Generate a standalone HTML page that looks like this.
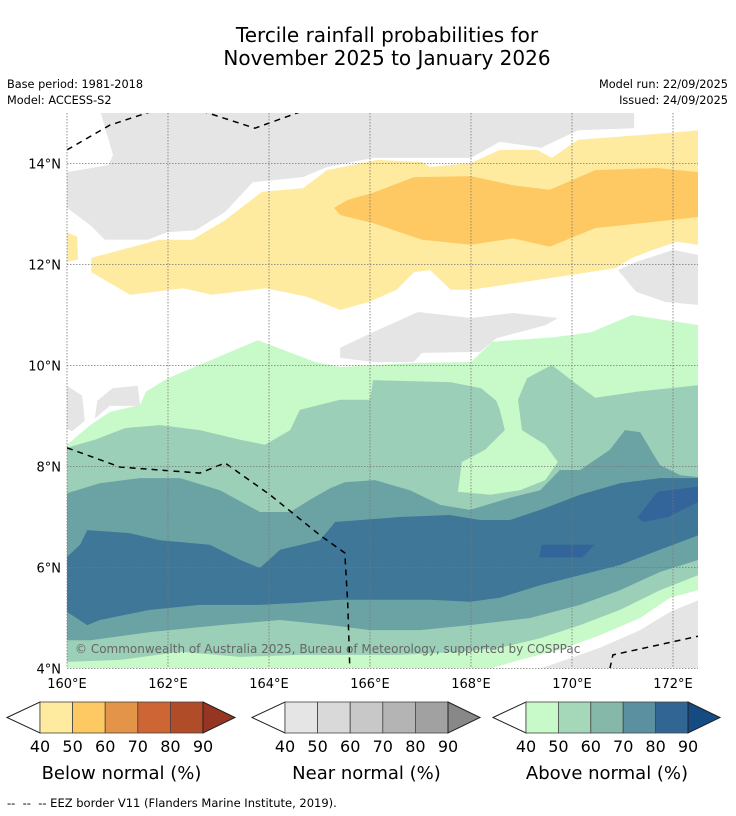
<!DOCTYPE html>
<html><head><meta charset="utf-8">
<style>
html,body{margin:0;padding:0;background:#fff;}
svg{display:block;font-family:"DejaVu Sans","Liberation Sans",sans-serif;}
</style></head>
<body>
<svg id="chart" width="736" height="816" viewBox="0 0 736 816" xmlns="http://www.w3.org/2000/svg">
<text x="387" y="42" font-size="20" text-anchor="middle">Tercile rainfall probabilities for</text>
<text x="387" y="65" font-size="20" text-anchor="middle">November 2025 to January 2026</text>
<text x="7" y="88" font-size="11.3">Base period: 1981-2018</text>
<text x="7" y="104" font-size="11.3">Model: ACCESS-S2</text>
<text x="728" y="88" font-size="11.3" text-anchor="end">Model run: 22/09/2025</text>
<text x="728" y="104" font-size="11.3" text-anchor="end">Issued: 24/09/2025</text>
<defs><clipPath id="mapclip"><rect x="67" y="113" width="631" height="555"/></clipPath></defs>
<g id="map" clip-path="url(#mapclip)"></g>
<g id="axes"></g>
<g id="bars"></g>
<text x="7" y="807" font-size="11.5" xml:space="preserve">--  --  -- EEZ border V11 (Flanders Marine Institute, 2019).</text>
</svg>
<script>
const lonTicks=[160,162,164,166,168,170,172];
const latTicks=[4,6,8,10,12,14];
const grayTop=[[160.67,15],[171.23,15],[171.23,14.7],[170.12,14.66],[169.39,14.31],[168.57,14.43],[168,14.11],[166.06,14.11],[165.15,13.93],[164.67,13.73],[163.68,13.63],[163.13,13.04],[162.55,12.68],[161.98,12.64],[161.6,12.49],[160.75,12.49],[160.46,12.78],[160,13.12],[160,13.83],[160.83,13.97],[160.91,14.17]];
const grayRight=[[170.91,11.89],[171.27,12.05],[172,12.29],[172.5,12.19],[172.5,11.2],[171.84,11.26],[171.27,11.46]];
const grayMid=[[165.41,10.15],[165.41,10.35],[166.06,10.66],[166.95,11.06],[168,10.94],[168.83,11.04],[169.72,10.94],[169.48,10.8],[168.5,10.54],[168.18,10.27],[167.03,10.25],[166.87,10.07],[166.06,10.07]];
const grayLeft1=[[160,9.6],[160.3,9.4],[160.35,8.9],[160.1,8.7],[160,8.75]];
const grayLeft2=[[160.6,9.3],[160.9,9.55],[161.4,9.6],[161.45,9.2],[160.85,9.2],[160.55,8.95]];
const grayBottom=[[172.5,5.35],[171.94,5.12],[171.35,4.76],[170.55,4.41],[169.76,4.13],[169.37,4],[172.5,4]];
const below40=[[160.48,12.13],[161.82,12.49],[162.48,12.49],[163.13,12.88],[163.86,13.44],[164.67,13.51],[165.15,13.87],[166.14,14.07],[167.03,14.03],[167.19,13.93],[168,14.01],[168.57,14.27],[169.31,14.27],[169.6,14.11],[170.12,14.47],[171.84,14.6],[172.5,14.66],[172.5,12.39],[172.08,12.45],[171.6,12.29],[171.19,12.13],[170.87,11.93],[169.96,11.79],[168,11.5],[167.6,11.5],[167.19,11.89],[166.87,11.85],[166.53,11.5],[165.98,11.26],[165.41,11.1],[164.75,11.36],[163.94,11.53],[162.87,11.4],[162.3,11.53],[161.25,11.4],[160.48,11.85]];
const below40b=[[160,12.64],[160.2,12.55],[160.22,12.1],[160,12.05]];
const below50=[[165.29,13.12],[165.56,13.28],[166.06,13.42],[166.87,13.73],[168,13.75],[168.83,13.57],[169.56,13.48],[170.46,13.87],[171.68,13.91],[172.5,13.83],[172.5,12.94],[170.46,12.72],[169.56,12.35],[168.83,12.52],[168,12.39],[167.03,12.49],[166.06,12.82],[165.41,12.98]];
const above40=[[160,8.43],[160.46,8.82],[160.85,9.08],[161.45,9.22],[161.56,9.48],[162,9.75],[163.78,10.5],[164.91,10.07],[165.41,9.97],[166.87,10.05],[168,10.07],[168.42,10.47],[169.64,10.56],[170.38,10.66],[171.19,11],[172.5,10.8],[172.5,5.55],[171.94,5.4],[171.35,5],[170.55,4.66],[169.76,4.37],[168.97,4.17],[168.38,4],[160,4]];
const above50=[[160,8.37],[160.55,8.53],[161.15,8.76],[161.84,8.82],[162.63,8.72],[163.43,8.53],[163.92,8.43],[164.42,8.72],[164.61,9.12],[165.41,9.32],[166,9.32],[166.06,9.71],[167.6,9.67],[168.2,9.55],[168.5,9.3],[168.57,9.12],[168.67,8.72],[168.28,8.33],[167.82,8.09],[167.74,7.5],[168.38,7.44],[168.97,7.53],[169.47,7.73],[169.72,8.09],[169.47,8.43],[169.01,8.72],[168.93,9.32],[169.11,9.75],[169.6,10.01],[170.04,9.67],[170.46,9.36],[171.27,9.48],[172.5,9.61],[172.5,5.85],[171.74,5.55],[170.95,5.16],[170.16,4.86],[169.37,4.6],[168.57,4.41],[167.78,4.33],[166.59,4.27],[164.61,4.27],[163.43,4.23],[162.24,4.33],[161.05,4.17],[160,4.13]];
const above60=[[160,7.47],[160.65,7.67],[161.45,7.77],[162.24,7.77],[163.03,7.53],[163.82,7.1],[164.42,7.1],[164.81,7.34],[165.21,7.57],[165.5,7.69],[166.1,7.73],[166.79,7.53],[167.39,7.24],[167.98,7.14],[168.77,7.38],[169.37,7.53],[169.76,7.93],[170.16,7.93],[170.75,8.33],[171.05,8.72],[171.35,8.68],[171.74,8.03],[172.14,7.83],[172.5,7.79],[172.5,6.15],[171.74,5.91],[170.95,5.55],[170.16,5.26],[169.17,5],[167.98,4.86],[166.99,4.76],[166,4.76],[165.21,4.86],[164.22,4.96],[163.03,4.86],[161.64,4.72],[160.46,4.56],[160,4.56]];
const above70=[[160,6.21],[160.26,6.45],[160.4,6.74],[161.25,6.68],[161.84,6.54],[162.83,6.45],[163.43,6.15],[163.82,5.99],[164.22,6.35],[165.01,6.54],[165.31,6.9],[166.59,7],[167.58,7.04],[168.18,6.94],[168.77,6.94],[169.37,7.14],[170.16,7.44],[170.95,7.67],[171.74,7.77],[172.5,7.77],[172.5,6.64],[171.74,6.35],[170.95,6.05],[170.16,5.85],[169.37,5.65],[168.57,5.4],[167.98,5.32],[167.19,5.36],[166.2,5.36],[165.41,5.36],[164.61,5.3],[163.82,5.26],[162.63,5.26],[161.64,5.16],[160.65,4.96],[160.4,4.86],[160,5.12]];
const above80a=[[169.4,6.45],[170.45,6.45],[170.2,6.2],[169.35,6.2]];
const above80b=[[171.3,7.0],[171.7,7.5],[172.5,7.6],[172.5,7.3],[171.9,7.0],[171.4,6.9]];
const eezTop=[[160,14.27],[160.85,14.76],[161.64,15.02],[162.73,15.02],[163.72,14.7],[164.61,15.02]];
const eezMid=[[160,8.37],[161.05,7.99],[162.63,7.87],[163.13,8.07],[164.02,7.44],[165.01,6.64],[165.5,6.29],[165.56,5.26],[165.6,4.0]];
const eezBR=[[170.75,4],[170.81,4.27],[172.5,4.64]];
const barTicks=["40","50","60","70","80","90"];
const belowColors=["#ffeb9f","#fec962","#e39448","#cd6534","#b14c29"];
const nearColors=["#e5e5e5","#d9d9d9","#c8c8c8","#b4b4b4","#a1a1a1"];
const aboveColors=["#c8f9c8","#a4d8b9","#86b8aa","#5a90a0","#316694"];
const barTitles=["Below normal (%)","Near normal (%)","Above normal (%)"];

const NS="http://www.w3.org/2000/svg";
const X0=67,PX=50.5,Y0=113;
function xs(lon){return X0+(lon-160)*PX;}
function ys(lat){return Y0+(15-lat)*PX;}
function mk(tag,attrs,parent){const e=document.createElementNS(NS,tag);for(const k in attrs)e.setAttribute(k,attrs[k]);parent.appendChild(e);return e;}
function pts(a){return a.map(p=>xs(p[0]).toFixed(1)+","+ys(p[1]).toFixed(1)).join(" ");}
const map=document.getElementById('map');
const bg=mk('rect',{x:67,y:113,width:631,height:555,fill:'#fff'},map);


const layers=[
 [grayTop,'#e5e5e5','near-normal-region-north'],[grayRight,'#e5e5e5','near-normal-region-east'],[grayMid,'#e5e5e5','near-normal-region-central'],
 [grayLeft1,'#e5e5e5','near-normal-region-west-1'],[grayLeft2,'#e5e5e5','near-normal-region-west-2'],
 [below40,'#ffeb9f','below-normal-40-region'],[below40b,'#ffeb9f','below-normal-40-patch'],[below50,'#fec962','below-normal-50-region'],
 [above40,'#c8f9c8','above-normal-40-region'],[grayBottom,'#e5e5e5','near-normal-region-southeast'],[above50,'#9ccfb7','above-normal-50-region'],
 [above60,'#6ba3a5','above-normal-60-region'],[above70,'#3e7797','above-normal-70-region'],
 [above80a,'#33649a','above-normal-80-patch-1'],[above80b,'#33649a','above-normal-80-patch-2']];
layers.forEach(l=>{
 const p=mk('polygon',{points:pts(l[0]),fill:l[1]},map);
 
 
});
const ax=document.getElementById('axes');
lonTicks.forEach(t=>{
 const l=mk('line',{x1:xs(t),x2:xs(t),y1:113,y2:668,stroke:'#777','stroke-width':0.8,'stroke-dasharray':'1.5,1.5'},ax);
 
 
 const tx=mk('text',{x:xs(t),y:688,'font-size':13,'text-anchor':'middle'},ax);tx.textContent=t+'°E';
 
 
});
latTicks.forEach(t=>{
 const l=mk('line',{x1:67,x2:698,y1:ys(t),y2:ys(t),stroke:'#777','stroke-width':0.8,'stroke-dasharray':'1.5,1.5'},ax);
 
 
 const tx=mk('text',{x:61,y:ys(t)+5,'font-size':13,'text-anchor':'end'},ax);tx.textContent=t+'°N';
 
 
});
[eezTop,eezMid,eezBR].forEach((e,i)=>{
 const p=mk('polyline',{points:pts(e),fill:'none',stroke:'#000','stroke-width':1.5,'stroke-dasharray':'6,5'},map);
 
 
});
const cp=mk('text',{x:75,y:653,'font-size':12,fill:'#666'},map);
cp.textContent='© Commonwealth of Australia 2025, Bureau of Meteorology, supported by COSPPac';



const bars=document.getElementById('bars');
const barDefs=[[7,40,203,235,belowColors,'#963521'],[252,285,448,480,nearColors,'#888888'],[493,526,688,720,aboveColors,'#144b82']];
barDefs.forEach((b,i)=>{
 const [tipL,x0,x1,tipR,cols,ext]=b;const y0=702,y1=733,ym=(y0+y1)/2;
 const g=mk('g',{},bars);
 
 
 mk('polygon',{points:`${tipL},${ym} ${x0},${y0} ${x0},${y1}`,fill:'#fff',stroke:'#222','stroke-width':1},g);
 const w=(x1-x0)/cols.length;
 cols.forEach((c,j)=>{mk('rect',{x:x0+j*w,y:y0,width:w,height:y1-y0,fill:c,stroke:'#444','stroke-width':0.8},g);});
 mk('polygon',{points:`${x1},${y0} ${tipR},${ym} ${x1},${y1}`,fill:ext,stroke:'#222','stroke-width':1},g);
 barTicks.forEach((t,j)=>{const tx=mk('text',{x:x0+j*w,y:752,'font-size':16,'text-anchor':'middle'},g);tx.textContent=t;});
 const tt=mk('text',{x:(x0+x1)/2,y:779,'font-size':18,'text-anchor':'middle'},g);tt.textContent=barTitles[i];
 
 
});
</script>
</body></html>
